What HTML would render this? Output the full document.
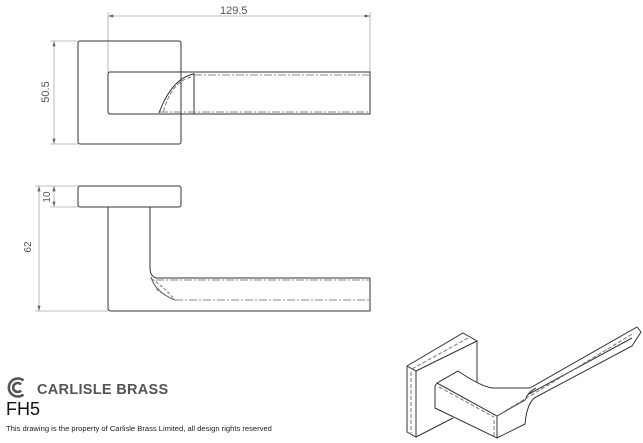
<!DOCTYPE html>
<html><head><style>
html,body{margin:0;padding:0;background:#fff;width:643px;height:443px;overflow:hidden}
svg{position:absolute;left:0;top:0}
text{font-family:"Liberation Sans",sans-serif}
</style></head><body>
<svg width="643" height="443" viewBox="0 0 643 443">
<defs>
<marker id="a" viewBox="0 0 10 6" refX="10" refY="3" markerWidth="7" markerHeight="4" orient="auto-start-reverse"><path d="M0,0L10,3L0,6z" fill="#666"/></marker>
</defs>
<g stroke="#aaa" stroke-width="0.8" fill="none">
<line x1="108" y1="12" x2="108" y2="72"/>
<line x1="370" y1="12" x2="370" y2="72"/>
<line x1="108" y1="16" x2="370" y2="16" marker-start="url(#a)" marker-end="url(#a)"/>
<line x1="50" y1="41" x2="78" y2="41"/>
<line x1="50" y1="144" x2="78" y2="144"/>
<line x1="54" y1="41" x2="54" y2="144" marker-start="url(#a)" marker-end="url(#a)"/>
<line x1="35" y1="186" x2="78" y2="186"/>
<line x1="50" y1="207" x2="78" y2="207"/>
<line x1="35" y1="311" x2="108" y2="311"/>
<line x1="39" y1="186" x2="39" y2="311" marker-start="url(#a)" marker-end="url(#a)"/>
<line x1="54" y1="186" x2="54" y2="207" marker-start="url(#a)" marker-end="url(#a)"/>
</g>
<g fill="#555" font-size="11">
<text x="220" y="14">129.5</text>
<text transform="translate(49,92) rotate(-90)" text-anchor="middle">50.5</text>
<text transform="translate(50,197) rotate(-90)" text-anchor="middle" font-size="10">10</text>
<text transform="translate(31,247) rotate(-90)" text-anchor="middle" font-size="10">62</text>
</g>
<g stroke="#333" stroke-width="1" fill="none">
<rect x="78" y="41" width="103" height="103" rx="2"/>
<path d="M181,72 L370,72 L370,114 L110,114 Q108,114 108,112 L108,74 Q108,72 110,72 L181,72"/>
<line x1="194" y1="73" x2="194" y2="114"/>
<path d="M194,74 Q172,78 159,113"/>
<path d="M191,77 Q171,82 163,113" stroke-dasharray="4,2" stroke="#777"/>
<line x1="194" y1="75" x2="369" y2="75" stroke-dasharray="8,2,2,2" stroke="#888"/>
<line x1="160" y1="112" x2="369" y2="112" stroke-dasharray="8,2,2,2" stroke="#888"/>
<rect x="78" y="186" width="103" height="21" rx="2"/>
<path d="M150,207 L150,268 Q150,276 156,278 L370,278 L370,311 L111,311 Q108,311 108,308 L108,207"/>
<path d="M151,277 Q155,292 175,300" stroke="#555"/>
<path d="M152,279 Q165,288 175,300 Q165,296 155,288" stroke-dasharray="3,2" stroke="#777"/>
<line x1="175" y1="300" x2="369" y2="300" stroke-dasharray="8,2,2,2" stroke="#888"/>
<line x1="156" y1="280" x2="369" y2="280" stroke-dasharray="8,2,2,2" stroke="#888"/>
<path d="M407,366 L463,333 L477,341 L477,382"/>
<path d="M407,366 L416,371 L477,341"/>
<path d="M407,366 L407,432 L416,437 L416,371"/>
<path d="M416,437 L453,418"/>
<path d="M437,383 L458,371 Q480,386 492,388 L530,388 L637,327 L641,332 L632,346 L536,397 Q527,402 525,424 L497,438 L435,408 L435,386 Z"/>
<path d="M437,383 L497,416 L497,438"/>
<path d="M497,416 L525,400 Q528,392 536,388"/>
<path d="M529,394 L632,338" />
<g stroke="#777" stroke-dasharray="4,2">
<path d="M412,369 L468,338"/>
<path d="M411,372 L411,433"/>
<path d="M439,387 L494,417"/>
<path d="M494,420 L494,436"/>
<path d="M500,414 L530,396 L634,333"/>
</g>
</g>
<g fill="none" stroke="#555" stroke-width="2.6">
<path d="M23.5,380.5 A9,9 0 1,0 23.5,394.5"/>
<path d="M21,384.5 A4.5,4.5 0 1,0 21,390.5"/>
</g>
<text x="37" y="394" font-size="14.5" font-weight="bold" fill="#555" letter-spacing="0.3">CARLISLE BRASS</text>
<text x="6" y="415" font-size="18" fill="#111">FH5</text>
<text x="6" y="431" font-size="7.6" fill="#222">This drawing is the property of Carlisle Brass Limited, all design rights reserved</text>
</svg>
</body></html>
